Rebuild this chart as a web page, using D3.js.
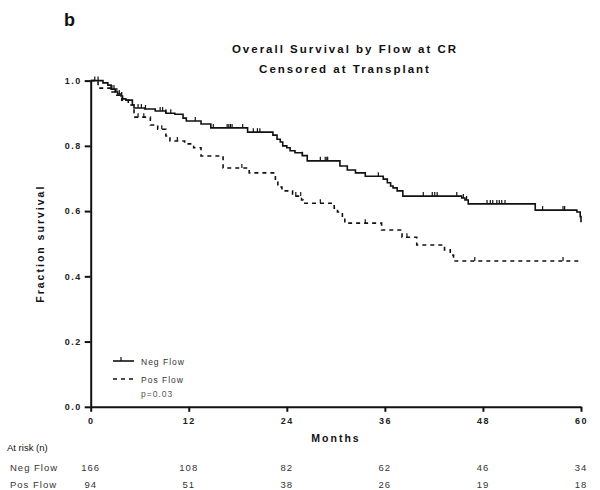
<!DOCTYPE html>
<html><head><meta charset="utf-8">
<script src="https://cdn.jsdelivr.net/npm/d3@7"></script>
<style>
body{margin:0;background:#fff;}
svg{font-family:"Liberation Sans",Arial,sans-serif;}
</style></head>
<body>
<script>
// ---- data ----
const xTicks = [0, 12, 24, 36, 48, 60];
const yTicks = [0, 0.2, 0.4, 0.6, 0.8, 1.0];
const groups = ["Neg Flow", "Pos Flow"];
const atRiskNeg = [166, 108, 82, 62, 46, 34];
const atRiskPos = [94, 51, 38, 26, 19, 18];

// Neg Flow: event times (months) and survival after each event
const negTimes = [0, 1.5, 2.1, 2.5, 3.0, 3.3, 3.7, 3.9, 4.3, 5.1, 5.3, 6.6, 7.9, 9.2, 10.3, 11.3, 11.7, 13.5, 14.7, 19.2, 22.3, 22.8, 23.2, 23.5, 24.0, 24.4, 25.0, 25.9, 26.5, 30.5, 31.4, 32.4, 33.6, 35.8, 36.3, 36.7, 37.0, 37.5, 38.2, 45.4, 45.8, 46.2, 54.4, 59.5, 59.9, 60];
const negSurv  = [1.0, 0.993, 0.986, 0.974, 0.965, 0.959, 0.953, 0.944, 0.94, 0.925, 0.916, 0.913, 0.907, 0.900, 0.897, 0.885, 0.876, 0.867, 0.855, 0.842, 0.833, 0.82, 0.812, 0.800, 0.794, 0.785, 0.779, 0.770, 0.754, 0.738, 0.726, 0.717, 0.707, 0.698, 0.687, 0.677, 0.671, 0.662, 0.646, 0.640, 0.634, 0.622, 0.603, 0.597, 0.583, 0.566];
const negCensor = [0.5, 0.9, 2.6, 2.85, 3.2, 3.5, 3.8, 5.8, 6.2, 6.7, 8.5, 8.8, 9.2, 9.8, 12.8, 15.0, 16.7, 16.9, 17.1, 17.3, 18.6, 19.9, 20.4, 20.7, 25.9, 28.1, 28.7, 28.9, 29.0, 35.2, 40.7, 41.8, 42.1, 42.4, 44.8, 45.6, 46.0, 48.5, 48.9, 49.2, 49.7, 50.0, 50.3, 50.7, 55.3, 57.8, 58.0];

// Pos Flow
const posTimes = [0, 0.9, 2.4, 3.2, 3.8, 4.6, 5.3, 7.3, 8.2, 9.2, 9.7, 11.5, 12.6, 13.5, 16.2, 19.4, 22.6, 22.9, 23.4, 24.7, 25.8, 26.0, 29.8, 30.2, 30.8, 31.1, 35.6, 38.1, 39.9, 43.3, 44.0, 44.4, 44.6];
const posSurv  = [1.0, 0.977, 0.965, 0.955, 0.94, 0.925, 0.888, 0.864, 0.851, 0.830, 0.815, 0.806, 0.794, 0.769, 0.732, 0.717, 0.695, 0.674, 0.662, 0.646, 0.634, 0.624, 0.609, 0.597, 0.581, 0.563, 0.542, 0.52, 0.496, 0.481, 0.465, 0.456, 0.447];
const posCensor = [5.8, 6.5, 8.7, 10.6, 18.5, 25.1, 25.7, 28.1, 33.6, 38.7, 47.0, 57.8];
const posEnd = 60;
const pValue = "p=0.03";

// ---- layout ----
const W = 600, H = 490;
const svg = d3.select("body").append("svg").attr("width", W).attr("height", H);
const x = d3.scaleLinear().domain([0, 60]).range([90.7, 581]);
const y = d3.scaleLinear().domain([0, 1]).range([406.8, 80.6]);
const ink = "#111";

svg.append("text").attr("x", 64).attr("y", 26).attr("font-size", 18).attr("font-weight", "bold").attr("fill", ink).text("b");
const title = svg.append("text").attr("text-anchor", "middle").attr("font-size", 11.5).attr("font-weight", "bold")
  .attr("letter-spacing", 2).attr("fill", ink);
title.append("tspan").attr("x", 345).attr("y", 53).text("Overall  Survival by Flow at CR");
title.append("tspan").attr("x", 345).attr("y", 73).text("Censored at  Transplant");

// axes
const yAxis = svg.append("g").attr("transform", `translate(${x(0)},0)`)
  .call(d3.axisLeft(y).tickValues(yTicks).tickFormat(d3.format(".1f")).tickSize(6).tickSizeOuter(0).tickPadding(3));
const xAxis = svg.append("g").attr("transform", `translate(0,${y(0)})`)
  .call(d3.axisBottom(x).tickValues(xTicks).tickSize(5).tickSizeOuter(0).tickPadding(6));
[yAxis, xAxis].forEach(g => {
  g.select(".domain").attr("stroke", ink).attr("stroke-width", 2);
  g.selectAll(".tick line").attr("stroke", ink).attr("stroke-width", 2);
  g.selectAll(".tick text").attr("fill", "#222").attr("font-size", 9).attr("font-weight", "bold")
    .attr("letter-spacing", 1.5).attr("font-family", "'Liberation Sans',Arial,sans-serif");
});

svg.append("text").attr("x", 336).attr("y", 442).attr("text-anchor", "middle").attr("font-size", 10.5)
  .attr("font-weight", "bold").attr("letter-spacing", 2).attr("fill", ink).text("Months");
svg.append("text").attr("transform", `translate(44,${y(0.5)}) rotate(-90)`).attr("text-anchor", "middle")
  .attr("font-size", 10.5).attr("font-weight", "bold").attr("letter-spacing", 2).attr("fill", ink).text("Fraction survival");

// curves
function stepPoints(times, surv, end) {
  const pts = times.map((t, i) => [t, surv[i]]);
  if (end !== undefined && end > times[times.length - 1]) pts.push([end, surv[surv.length - 1]]);
  return pts;
}
function survAt(times, surv, t) {
  let s = surv[0];
  for (let i = 0; i < times.length; i++) if (times[i] <= t) s = surv[i];
  return s;
}
const line = d3.line().x(d => x(d[0])).y(d => y(d[1])).curve(d3.curveStepAfter);

const series = [
  {times: negTimes, surv: negSurv, cens: negCensor, end: 60, dash: null},
  {times: posTimes, surv: posSurv, cens: posCensor, end: posEnd, dash: "4,4"}
];
series.forEach(s => {
  svg.append("path").attr("d", line(stepPoints(s.times, s.surv, s.end))).attr("fill", "none")
    .attr("stroke", ink).attr("stroke-width", 1.6).attr("stroke-dasharray", s.dash);
  svg.append("g").selectAll("line").data(s.cens).join("line")
    .attr("x1", d => x(d)).attr("x2", d => x(d))
    .attr("y1", d => y(survAt(s.times, s.surv, d)))
    .attr("y2", d => y(survAt(s.times, s.surv, d)) - 4)
    .attr("stroke", ink).attr("stroke-width", 1.2);
});

// legend
const lg = svg.append("g").attr("font-size", 8.5).attr("fill", "#333").attr("letter-spacing", 1);
lg.append("line").attr("x1", 113).attr("x2", 134).attr("y1", 361).attr("y2", 361).attr("stroke", ink).attr("stroke-width", 1.6);
lg.append("line").attr("x1", 121).attr("x2", 121).attr("y1", 361).attr("y2", 357).attr("stroke", ink).attr("stroke-width", 1.2);
lg.append("text").attr("x", 141).attr("y", 364.5).text(groups[0]);
lg.append("line").attr("x1", 113).attr("x2", 134).attr("y1", 379).attr("y2", 379).attr("stroke", ink).attr("stroke-width", 1.6).attr("stroke-dasharray", "4,4");
lg.append("text").attr("x", 141).attr("y", 382.5).text(groups[1]);
lg.append("text").attr("x", 141).attr("y", 397).attr("fill", "#555").text(pValue);

// at risk table
const tb = svg.append("g").attr("font-size", 9.5).attr("fill", "#333");
tb.append("text").attr("x", 7).attr("y", 451).attr("fill", ink).text("At risk (n)");
[[groups[0], atRiskNeg, 471], [groups[1], atRiskPos, 488]].forEach(([name, vals, yy]) => {
  tb.append("text").attr("x", 10).attr("y", yy).attr("letter-spacing", 1).text(name);
  tb.selectAll(null).data(vals).join("text").attr("x", (d, i) => x(xTicks[i])).attr("y", yy)
    .attr("text-anchor", "middle").attr("letter-spacing", 1).text(d => d);
});
</script>
</body></html>
